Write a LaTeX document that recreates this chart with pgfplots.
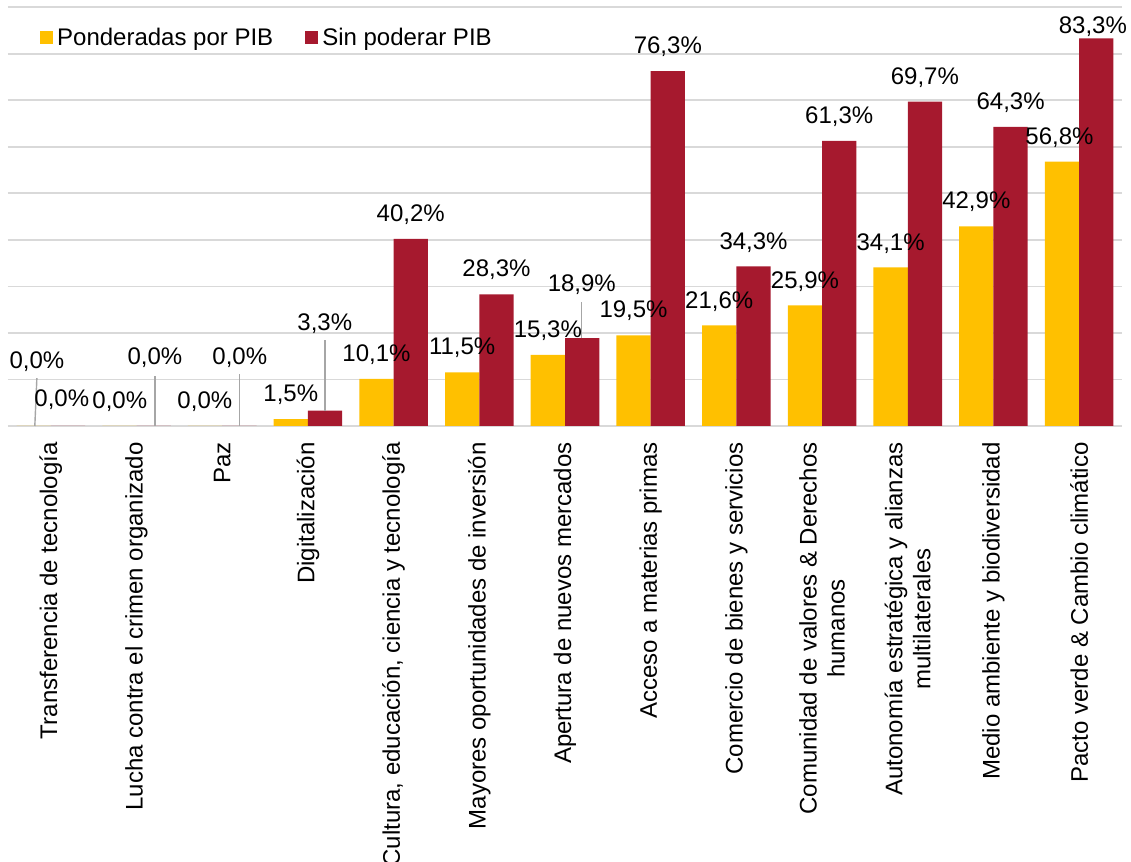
\documentclass[border=0pt]{standalone}
\usepackage{pgfplots}
\pgfplotsset{compat=1.18}
\usepackage{pgfplotstable}
\usepackage{fontspec}
\setmainfont{Liberation Sans}
\definecolor{yel}{HTML}{FFC000}
\definecolor{crim}{HTML}{A6192E}
\definecolor{gridc}{HTML}{D9D9D9}
\definecolor{leadc}{HTML}{A6A6A6}
\newcommand{\lf}{\fontsize{12}{14}\selectfont}

\pgfplotstableread{
x y
0 0
1 0
2 0
3 1.5
4 10.1
5 11.5
6 15.3
7 19.5
8 21.6
9 25.9
10 34.1
11 42.9
12 56.8
}\yeldata
\pgfplotstableread{
x y
0 0
1 0
2 0
3 3.3
4 40.2
5 28.3
6 18.9
7 76.3
8 34.3
9 61.3
10 69.7
11 64.3
12 83.3
}\reddata
\pgfplotstableread{
x y lab
-0.163 13.8 0,0
0.128 5.6 0,0
0.805 5.2 0,0
1.214 14.6 0,0
1.797 5.2 0,0
2.205 14.6 0,0
2.80 6.8 1,5
3.197 21.9 3,3
3.8 15.3 10,1
4.2 45.4 40,2
4.8 16.9 11,5
5.2 33.5 28,3
5.8 20.5 15,3
6.196 30.3 18,9
6.8 24.7 19,5
7.2 81.5 76,3
7.8 26.8 21,6
8.2 39.5 34,3
8.8 31.1 25,9
9.2 66.5 61,3
9.8 39.3 34,1
10.2 74.8 69,7
10.8 48.2 42,9
11.2 69.6 64,3
11.77 61.9 56,8
12.16 85.8 83,3
}\labdata

\begin{document}
\begin{tikzpicture}
\begin{axis}[
  scale only axis,
  width=557pt, height=209.35pt,
  xmin=-0.5, xmax=12.5,
  ymin=0, ymax=90,
  clip=false,
  axis line style={draw=none},
  ytick={0,10,...,90},
  yticklabels={},
  ymajorgrids,
  major grid style={draw=gridc, line width=0.9pt},
  major tick length=0pt,
  xtick={0,...,12},
  xticklabels={
    {Transferencia de tecnología},
    {Lucha contra el crimen organizado},
    {Paz},
    {Digitalización},
    {Cultura, educación, ciencia y tecnología},
    {Mayores oportunidades de inversión},
    {Apertura de nuevos mercados},
    {Acceso a materias primas},
    {Comercio de bienes y servicios},
    {Comunidad de valores \& Derechos\\humanos},
    {Autonomía estratégica y alianzas\\multilaterales},
    {Medio ambiente y biodiversidad},
    {Pacto verde \& Cambio climático}},
  xticklabel style={rotate=90, anchor=east, align=center, font=\lf, inner sep=0pt},
  xticklabel shift=8pt,
  legend columns=2,
  legend style={at={(0.0285,0.927)}, anchor=west, draw=none, fill=none,
    font=\lf, inner sep=0pt,
    /tikz/every even column/.append style={column sep=14pt}},
  legend image code/.code={\fill[#1] (0pt,-3.25pt) rectangle (6.5pt,3.25pt);},
]
\coordinate (SW) at (rel axis cs:0,0);
\coordinate (NE) at (rel axis cs:1,1);
\addplot[ybar, bar width=0.4, bar shift=-0.2, fill=yel, draw=none] table[x=x,y=y] {\yeldata};
\addlegendentry{Ponderadas por PIB}
\addplot[ybar, bar width=0.4, bar shift=0.2, fill=crim, draw=none] table[x=x,y=y] {\reddata};
\addlegendentry{Sin poderar PIB}
% leader lines
\addplot[forget plot, draw=leadc, line width=0.7pt] coordinates {(-0.187,0) (-0.163,10.3)};
\addplot[forget plot, draw=leadc, line width=0.7pt] coordinates {(1.214,0) (1.214,10.75)};
\addplot[forget plot, draw=leadc, line width=0.7pt] coordinates {(2.205,0) (2.205,11.2)};
\addplot[forget plot, draw=leadc, line width=0.7pt] coordinates {(3.197,3.3) (3.197,18.5)};
\addplot[forget plot, draw=leadc, line width=0.7pt] coordinates {(6.196,18.9) (6.196,26.7)};
% data labels
\addplot[forget plot, only marks, mark=*, mark size=0pt, mark options={draw=none,fill=none},
  point meta=explicit symbolic,
  nodes near coords={\pgfplotspointmeta\%},
  nodes near coords align={center},
  every node near coord/.append style={anchor=center, font=\lf, inner sep=0pt, text=black}]
  table[x=x, y=y, meta=lab] {\labdata};
\end{axis}
\pgfresetboundingbox
\useasboundingbox ([xshift=-4pt,yshift=-218pt]SW) rectangle ([xshift=4.5pt,yshift=3.65pt]NE);
\end{tikzpicture}
\end{document}
